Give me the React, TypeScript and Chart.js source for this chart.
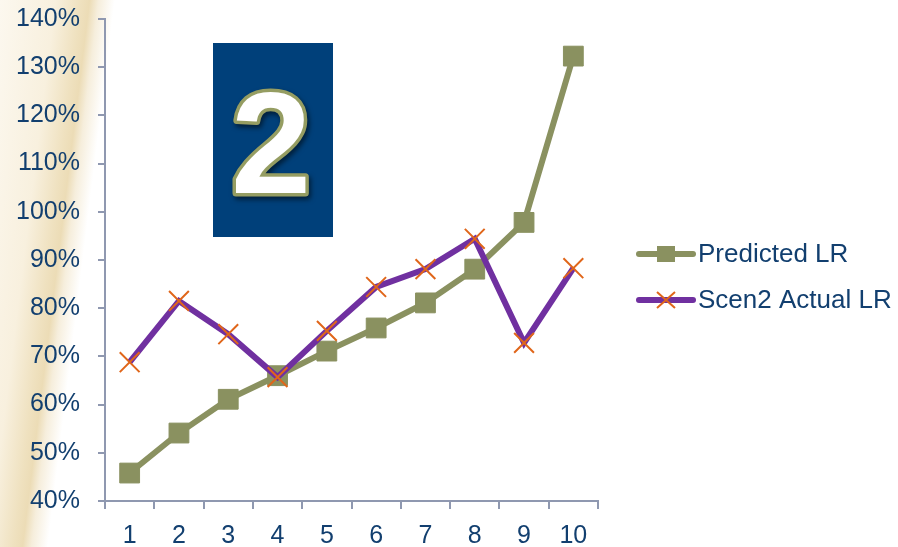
import React, { useEffect, useRef } from 'react';
import { Chart, registerables } from 'chart.js';

Chart.register(...registerables);

const categories = ['1', '2', '3', '4', '5', '6', '7', '8', '9', '10'];
const predictedLR = [45.8, 54.1, 61.1, 66.0, 71.1, 75.9, 81.1, 88.1, 97.8, 132.3];
const scen2ActualLR = [68.8, 81.5, 74.6, 65.7, 75.3, 84.4, 88.1, 94.4, 72.8, 88.3];
const yTicks = [40, 50, 60, 70, 80, 90, 100, 110, 120, 130, 140];
const seriesLabels = ['Predicted LR', 'Scen2 Actual LR'];
const badgeText = '2';

const FONT = '"Liberation Sans", Arial, sans-serif';
const NAVY = '#123f6f';
const AXIS = '#8f98b0';
const OLIVE = '#8a9160';
const PURPLE = '#7030a0';
const ORANGE = '#e0661a';

export default function App() {
  const ref = useRef<HTMLCanvasElement>(null);

  useEffect(() => {
    const canvas = ref.current;
    if (!canvas) return;

    const decorPlugin = {
      id: 'decor',
      beforeDraw(chart: any) {
        const { ctx, width, height } = chart;
        ctx.save();
        const ang = (7 * Math.PI) / 180;
        const L = 200;
        const g = ctx.createLinearGradient(0, 0, Math.cos(ang) * L, Math.sin(ang) * L);
        g.addColorStop(0, '#fcf8ef');
        g.addColorStop(55 / L, '#f8f0de');
        g.addColorStop(80 / L, '#efe1bf');
        g.addColorStop(89 / L, '#ecdcb6');
        g.addColorStop(98 / L, '#f6eedc');
        g.addColorStop(114 / L, '#ffffff');
        g.addColorStop(1, '#ffffff');
        ctx.fillStyle = g;
        ctx.fillRect(0, 0, width, height);

        // badge box
        ctx.fillStyle = '#00407a';
        ctx.fillRect(213, 43, 120, 194);
        ctx.font = `bold 144px ${FONT}`;
        ctx.textAlign = 'center';
        ctx.textBaseline = 'alphabetic';
        ctx.shadowColor = 'rgba(0,0,0,0.55)';
        ctx.shadowBlur = 5;
        ctx.shadowOffsetX = 2;
        ctx.shadowOffsetY = 3;
        ctx.lineJoin = 'round';
        ctx.lineWidth = 7;
        ctx.strokeStyle = '#959d62';
        ctx.strokeText(badgeText, 271, 193);
        ctx.shadowColor = 'transparent';
        ctx.fillStyle = '#ffffff';
        ctx.fillText(badgeText, 271, 193);
        ctx.restore();
      },
      afterDraw(chart: any) {
        const { ctx } = chart;
        const ds = chart.data.datasets;
        ctx.save();
        const x0 = 639;
        const x1 = 693;
        const cx = 666;
        const rows = [254, 300];
        ds.forEach((d: any, i: number) => {
          const y = rows[i];
          ctx.strokeStyle = d.borderColor;
          ctx.lineWidth = 6;
          ctx.lineCap = 'round';
          ctx.beginPath();
          ctx.moveTo(x0, y);
          ctx.lineTo(x1, y);
          ctx.stroke();
          if (d.pointStyle === 'rect') {
            ctx.fillStyle = d.pointBackgroundColor;
            ctx.fillRect(cx - 9, y - 8, 18, 16);
          } else {
            ctx.strokeStyle = d.pointBorderColor;
            ctx.lineWidth = 2;
            ctx.lineCap = 'butt';
            ctx.beginPath();
            ctx.moveTo(cx - 9, y - 8);
            ctx.lineTo(cx + 9, y + 8);
            ctx.moveTo(cx + 9, y - 8);
            ctx.lineTo(cx - 9, y + 8);
            ctx.stroke();
          }
          ctx.fillStyle = NAVY;
          ctx.font = `26px ${FONT}`;
          ctx.textAlign = 'left';
          ctx.textBaseline = 'middle';
          ctx.fillText(d.label, 698, y + 1);
        });
        ctx.restore();
      },
    };

    const chart = new Chart(canvas, {
      type: 'line',
      data: {
        labels: categories,
        datasets: [
          {
            label: seriesLabels[0],
            data: predictedLR,
            borderColor: OLIVE,
            borderWidth: 6,
            pointStyle: 'rect',
            pointRadius: 14,
            pointBackgroundColor: OLIVE,
            pointBorderColor: OLIVE,
            pointBorderWidth: 1,
            tension: 0,
            order: 2,
            clip: false as any,
          },
          {
            label: seriesLabels[1],
            data: scen2ActualLR,
            borderColor: PURPLE,
            borderWidth: 6,
            pointStyle: 'crossRot',
            pointRadius: 14,
            pointBackgroundColor: ORANGE,
            pointBorderColor: ORANGE,
            pointBorderWidth: 2,
            tension: 0,
            order: 1,
            clip: false as any,
          },
        ],
      },
      options: {
        animation: false,
        responsive: true,
        maintainAspectRatio: false,
        layout: { padding: { left: 0, right: 300, top: 19, bottom: 0 } },
        plugins: {
          legend: { display: false },
          tooltip: { enabled: false },
        },
        scales: {
          x: {
            type: 'category',
            offset: true,
            grid: {
              offset: true,
              drawOnChartArea: false,
              drawTicks: true,
              tickLength: 8,
              color: AXIS,
              lineWidth: 2,
            },
            border: { color: AXIS, width: 2 },
            ticks: {
              color: NAVY,
              font: { family: FONT, size: 25 },
              padding: 12,
              maxRotation: 0,
              autoSkip: false,
            },
            afterFit(s: any) {
              s.height = 46;
              s.paddingLeft = 0;
              s.paddingRight = 0;
            },
          },
          y: {
            min: 40,
            max: 140,
            afterBuildTicks(s: any) {
              s.ticks = yTicks.map((v) => ({ value: v }));
            },
            grid: {
              drawOnChartArea: false,
              drawTicks: true,
              tickLength: 7,
              color: AXIS,
              lineWidth: 2,
            },
            border: { color: AXIS, width: 2 },
            ticks: {
              color: NAVY,
              font: { family: FONT, size: 25 },
              padding: 18,
              callback: (v: any) => `${v}%`,
            },
            afterFit(s: any) {
              s.width = 105;
              s.paddingTop = 0;
              s.paddingBottom = 0;
            },
          },
        },
      },
      plugins: [decorPlugin],
    });

    return () => chart.destroy();
  }, []);

  return (
    <div style={{ position: 'absolute', left: 0, top: 0, width: 898, height: 547 }}>
      <canvas ref={ref} />
    </div>
  );
}
